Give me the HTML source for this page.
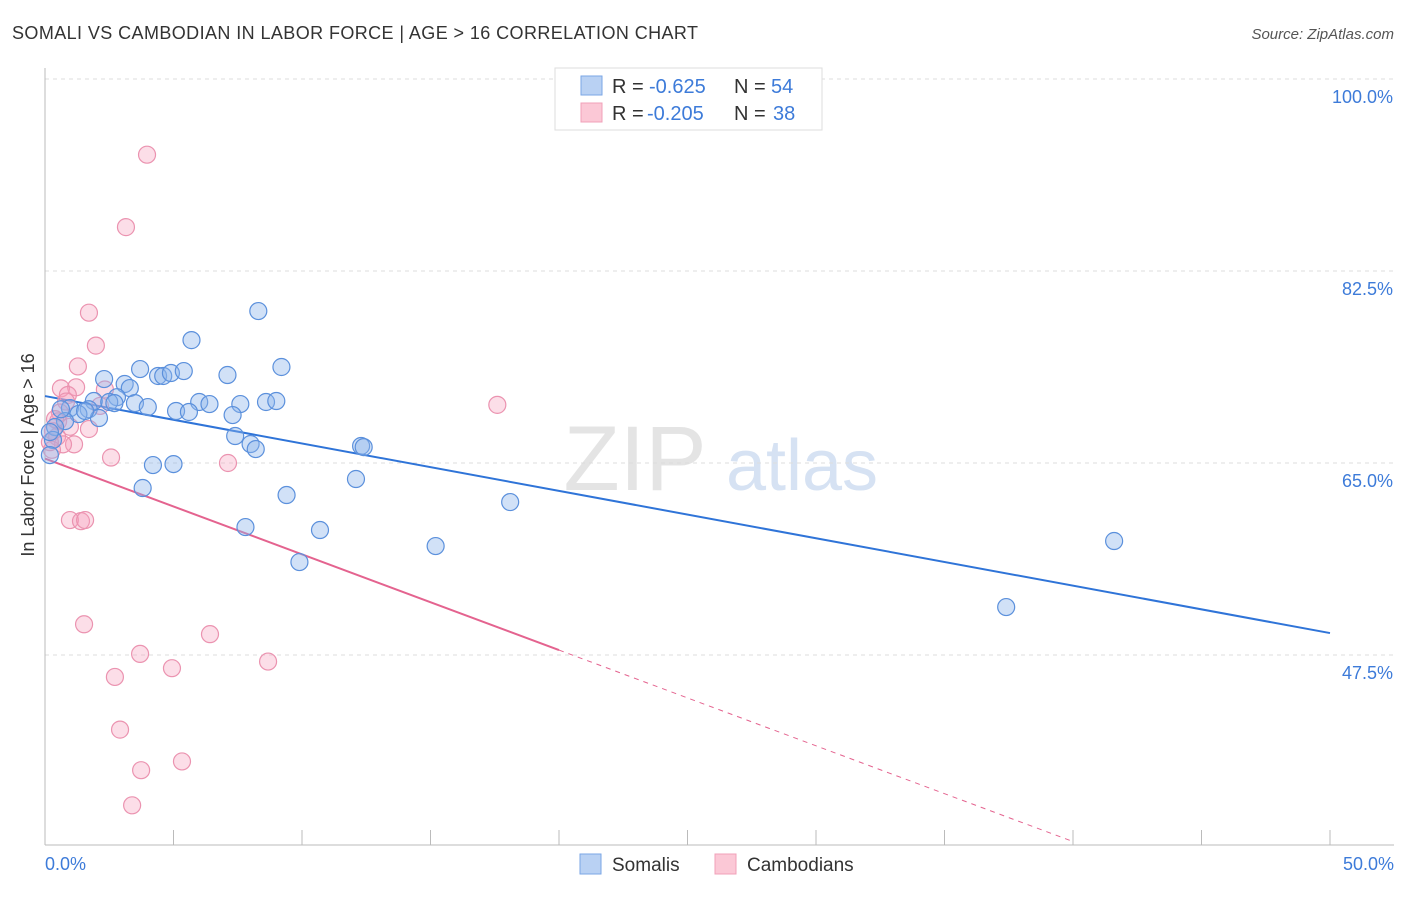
<!DOCTYPE html>
<html><head><meta charset="utf-8"><style>
body{margin:0;background:#fff;font-family:"Liberation Sans",sans-serif;}
svg text{font-family:"Liberation Sans",sans-serif;}
</style></head><body>
<svg id="chart" width="1406" height="892" viewBox="0 0 1406 892" xmlns="http://www.w3.org/2000/svg">
<text x="12" y="39" font-size="18" fill="#333" textLength="686">SOMALI VS CAMBODIAN IN LABOR FORCE | AGE &gt; 16 CORRELATION CHART</text>
<text x="1394" y="39" font-size="15" fill="#555" font-style="italic" text-anchor="end">Source: ZipAtlas.com</text>
<g>
<text x="635" y="490" font-size="92" fill="#e4e4e4" font-family="Liberation Serif,serif" text-anchor="middle">ZIP</text>
<text x="802" y="490" font-size="72" fill="#d6e2f3" text-anchor="middle">atlas</text>
</g>
<g id="grid"></g>
<g id="axes"></g>
<g id="trend"></g>
<g id="points"></g>
<text x="34" y="455" font-size="18" fill="#333" text-anchor="middle" transform="rotate(-90 34 455)">In Labor Force | Age &gt; 16</text>
<g>
<rect x="555" y="68" width="267" height="62" fill="#fff" stroke="#ddd"/>
<rect x="581" y="76" width="21" height="19" fill="#b9d1f3" stroke="#7aa6e6"/>
<rect x="581" y="103" width="21" height="19" fill="#fbc8d6" stroke="#f0a0b8"/>
<text x="612" y="93" font-size="20" fill="#333">R =</text>
<text x="649" y="93" font-size="20" fill="#3d7bd9">-0.625</text>
<text x="734" y="93" font-size="20" fill="#333">N =</text>
<text x="771" y="93" font-size="20" fill="#3d7bd9">54</text>
<text x="612" y="120" font-size="20" fill="#333">R =</text>
<text x="647" y="120" font-size="20" fill="#3d7bd9">-0.205</text>
<text x="734" y="120" font-size="20" fill="#333">N =</text>
<text x="773" y="120" font-size="20" fill="#3d7bd9">38</text>
</g>
<g>
<rect x="580" y="854" width="21" height="20" fill="#b9d1f3" stroke="#7aa6e6"/>
<text x="612" y="871" font-size="19" fill="#333">Somalis</text>
<rect x="715" y="854" width="21" height="20" fill="#fbc8d6" stroke="#f0a0b8"/>
<text x="747" y="871" font-size="19" fill="#333">Cambodians</text>
</g>
</svg>
<script>
const yTicks=[100,82.5,65,47.5];
const yTickLabels=["100.0%","82.5%","65.0%","47.5%"];
const xTickLabels=["0.0%","50.0%"];
const somaliX=[8.3,5.7,3.7,9.2,4.4,4.6,4.9,5.4,7.1,2.3,3.1,3.3,2.8,1.9,2.5,3.5,4.0,6.0,6.4,7.6,8.6,9.0,5.1,5.6,7.3,0.97,1.7,1.3,2.1,0.78,0.39,0.31,0.19,7.4,8.0,8.2,12.3,12.4,4.2,5.0,3.8,12.1,9.4,18.1,7.8,10.7,9.9,15.2,41.6,37.4,0.62,1.56,2.7,0.19];
const somaliY=[78.85,76.2,73.56,73.75,72.93,72.93,73.2,73.38,73.02,72.65,72.2,71.83,71.0,70.65,70.56,70.46,70.1,70.56,70.37,70.37,70.56,70.65,69.74,69.65,69.37,70.0,69.9,69.46,69.1,68.82,68.28,67.1,65.72,67.46,66.73,66.27,66.55,66.45,64.81,64.9,62.72,63.54,62.08,61.44,59.16,58.89,55.97,57.43,57.89,51.87,69.9,69.74,70.46,67.82];
const cambX=[3.97,3.15,1.71,1.98,1.28,1.21,0.62,2.33,0.89,0.82,2.14,0.58,0.51,1.71,0.97,0.31,0.47,1.13,0.70,0.27,2.57,7.12,17.6,0.97,1.40,1.56,1.52,6.42,3.70,8.68,4.94,2.72,2.92,5.33,3.74,3.39,0.19,0.39];
const cambY=[93.1,86.5,78.7,75.7,73.8,71.9,71.8,71.7,71.2,70.6,70.2,69.6,68.8,68.1,68.3,67.9,67.4,66.7,66.7,66.2,65.5,65.0,70.3,59.8,59.7,59.8,50.3,49.4,47.6,46.9,46.3,45.5,40.7,37.8,37.0,33.8,66.9,69.0];
const somaliTrend=[71.1,49.5];
const cambTrend=[65.4,47.95];
const NS="http://www.w3.org/2000/svg";
const X0=45,X1=1330,Y0=79,PPY=192/17.5;
const xs=v=>X0+(X1-X0)*v/50;
const ys=v=>Y0+(100-v)*PPY;
function mk(tag,attrs,parent){const e=document.createElementNS(NS,tag);for(const k in attrs)e.setAttribute(k,attrs[k]);parent.appendChild(e);return e;}
const grid=document.getElementById('grid'),axes=document.getElementById('axes'),trend=document.getElementById('trend'),pts=document.getElementById('points');
yTicks.forEach((t,i)=>{
 const l=mk('line',{x1:45,x2:1394,y1:ys(t),y2:ys(t),stroke:'#ddd','stroke-dasharray':'4,4'},grid);
 
 
 const tx=mk('text',{x:1393,y:ys(t)+24,'font-size':18,fill:'#3d7bd9','text-anchor':'end'},axes);
 tx.textContent=yTickLabels[i];
 
 
});
const ax=mk('line',{x1:45,x2:1394,y1:845,y2:845,stroke:'#bbb'},axes);


const ay=mk('line',{x1:45,x2:45,y1:68,y2:845,stroke:'#bbb'},axes);


for(let i=0;i<=10;i++){
 const tk=mk('line',{x1:xs(i*5),x2:xs(i*5),y1:830,y2:845,stroke:'#bbb'},axes);
 
 
}
[[0,'start',45],[50,'end',1394]].forEach((d,i)=>{
 const tx=mk('text',{x:d[2],y:870,'font-size':18,fill:'#3d7bd9','text-anchor':d[1]},axes);
 tx.textContent=xTickLabels[i];
 
 
});
const bl=mk('line',{x1:xs(0),y1:ys(somaliTrend[0]),x2:xs(50),y2:ys(somaliTrend[1]),stroke:'#2f74d8','stroke-width':2},trend);


const slope=(cambTrend[1]-cambTrend[0])/20;
const pl=mk('line',{x1:xs(0),y1:ys(cambTrend[0]),x2:xs(20),y2:ys(cambTrend[1]),stroke:'#e4638f','stroke-width':2},trend);


const pd=mk('line',{x1:xs(20),y1:ys(cambTrend[1]),x2:xs(40),y2:ys(cambTrend[0]+slope*40),stroke:'#e4638f','stroke-width':1,'stroke-dasharray':'5,5'},trend);


cambX.forEach((x,i)=>{
 const c=mk('circle',{cx:xs(x),cy:ys(cambY[i]),r:8.5,fill:'rgba(246,160,188,0.35)',stroke:'#eb93b0','stroke-width':1.2},pts);
 
 
});
somaliX.forEach((x,i)=>{
 const c=mk('circle',{cx:xs(x),cy:ys(somaliY[i]),r:8.5,fill:'rgba(140,180,235,0.4)',stroke:'#5b90dc','stroke-width':1.2},pts);
 
 
});
</script>
</body></html>
